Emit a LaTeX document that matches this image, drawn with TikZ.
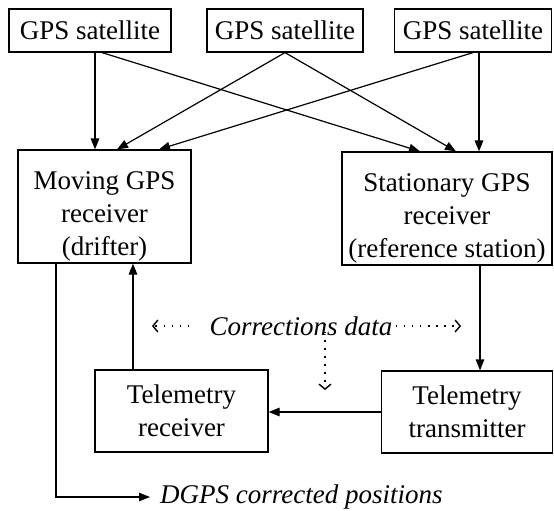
\documentclass[tikz,border=0pt]{standalone}
\usepackage{fontspec}
\setmainfont{Liberation Serif}
\usepackage{tikz}
\usetikzlibrary{positioning, arrows.meta}
\newcommand{\boxfont}{\fontsize{27}{33}\selectfont}
\tikzset{
  unitbox/.style={draw, line width=1.2pt, inner sep=2pt, align=center, font=\boxfont},
  satbox/.style={unitbox, minimum height=43pt},
  rcvbox/.style={unitbox, minimum height=113pt, inner ysep=0pt, text height=104pt},
  arr/.style={-{Triangle[length=11pt,width=8.5pt]}, line width=1.2pt},
  dotarr/.style={-{Straight Barb[length=5pt,width=12pt, line width=1.4pt]}, line width=1.6pt, dash pattern=on 1.6pt off 6.5pt},
  note/.style={font=\boxfont\itshape, inner sep=0pt},
}

\begin{document}
\begin{tikzpicture}[x=1pt, y=-1pt]
  \useasboundingbox (0,0) rectangle (554,511);
  % satellites
  \node[satbox, minimum width=162pt] (sat1) at (90,30.5) {GPS satellite};
  \node[satbox, minimum width=156pt] (sat2) at (285,30.5) {GPS satellite};
  \node[satbox, minimum width=157pt] (sat3) at (473,30.5) {GPS satellite};
  % receivers
  \node[rcvbox, minimum width=173pt] (mov) at (104.5,206.5)
    {Moving GPS\\receiver\\(drifter)};
  \node[rcvbox, minimum width=210pt] (sta) at (447,208.5)
    {Stationary GPS\\receiver\\(reference station)};
  % telemetry
  \node[unitbox, minimum width=173pt, minimum height=82pt] (trx) at (181.5,411)
    {Telemetry\\receiver};
  \node[unitbox, minimum width=171pt, minimum height=82pt] (ttx) at (467,412)
    {Telemetry\\transmitter};

  \draw[arr] ([xshift=5pt]sat1.south) -- ([xshift=5pt]sat1.south |- mov.north);
  \draw[arr] ([xshift=12pt]sat1.south) -- ([xshift=-27pt]sta.north);
  \draw[arr] (sat2.south) -- ([xshift=12.5pt]mov.north);
  \draw[arr] (sat2.south) -- ([xshift=9pt]sta.north);
  \draw[arr] ([xshift=0pt]sat3.south) -- ([xshift=54.5pt]mov.north);
  \draw[arr] ([xshift=6pt]sat3.south) -- ([xshift=6pt]sat3.south |- sta.north);

  \draw[arr] ([xshift=33pt]sta.south) -- ([xshift=33pt]sta.south |- ttx.north);
  \draw[arr] (ttx.west) -- (ttx.west -| trx.east);
  \draw[arr] ([xshift=-48.5pt]trx.north) -- ([xshift=-48.5pt]trx.north |- mov.south);

  % corrections data
  \node[note] (corr) at (301,326) {Corrections data};
  \coordinate (cl) at (152,326);
  \coordinate (cr) at (461,326);
  \coordinate (cd) at (325,390);
  \draw[dotarr] ([xshift=-20pt]corr.west) -- (cl);
  \draw[dotarr] ([xshift=3pt]corr.east) -- (cr);
  \draw[dotarr] ([yshift=12pt]corr.south -| cd) -- (cd);

  % output
  \node[note, anchor=west] (dgps) at (160,497) {DGPS corrected positions};
  \coordinate (corner) at (56,497);
  \draw[arr] ([xshift=-48.5pt]mov.south) -- (corner) -- ([xshift=-10pt]dgps.west);
\end{tikzpicture}
\end{document}
